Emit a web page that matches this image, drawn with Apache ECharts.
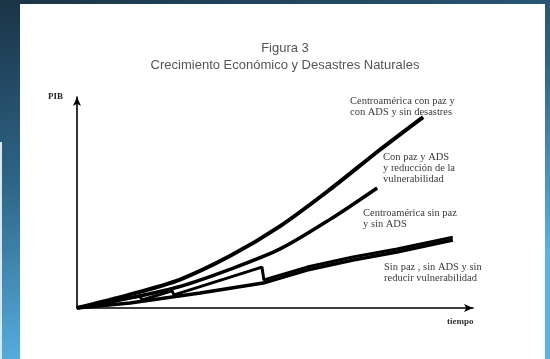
<!DOCTYPE html>
<html><head><meta charset="utf-8">
<script src="https://cdn.jsdelivr.net/npm/echarts@6/dist/echarts.min.js"></script>
<style>html,body{margin:0;padding:0;background:#fff;overflow:hidden}#c{width:550px;height:359px}</style>
</head><body><div id="c"></div>
<script>
// ---- data (x = tiempo 0..100, y = PIB 0..100) ----
const titleLines = ['Figura 3', 'Crecimiento Económico y Desastres Naturales'];
const xAxisName = 'tiempo';
const yAxisName = 'PIB';
const seriesNames = [
  'Centroamérica con paz y con ADS y sin desastres',
  'Con paz y ADS y reducción de la vulnerabilidad',
  'Centroamérica sin paz y sin ADS',
  'Sin paz , sin ADS y sin reducir vulnerabilidad'
];
const seriesLabels = [
  'Centroamérica con paz y\ncon ADS y sin desastres',
  'Con paz y ADS\ny reducción de la\nvulnerabilidad',
  'Centroamérica sin paz\ny sin ADS',
  'Sin paz , sin ADS y sin\nreducir vulnerabilidad'
];
const conPazSinDesastres = [[0,0],[13,6.2],[26.0,13.5],[38.6,24.6],[51.3,38.8],[63.9,56.2],[76.5,75.0],[87.4,90.5]];
const conPazReduccion = [[0,0],[13,4.6],[26.0,10.2],[38.6,18.3],[51.3,28.0],[63.9,42.0],[75.8,56.9]];
const sinPazSinADS = [[0,0],[15.9,5.7],[16.4,3.8],[24.0,8.1],[24.5,6.2],[46.7,19.4],[47.2,13.3],[58.1,19.4],[69.7,24.2],[80.8,28.0],[94.9,33.6]];
const sinReducir = [[0,0],[13.4,2.4],[31.1,7.1],[47.0,11.8],[58.1,18.0],[69.7,22.7],[80.8,26.5],[94.9,32.2]];

const chart = echarts.init(document.getElementById('c'), null, {renderer:'canvas'});
const serif = '"Liberation Serif", "DejaVu Serif", serif';
const sans = '"Liberation Sans", Arial, sans-serif';
const lbl = (x, y, t) => ({type:'text', x, y, z:10, style:{text:t, font:'10.5px ' + serif, fill:'#3a3a3a', lineHeight:11}});

chart.setOption({
  backgroundColor: {type:'linear', x:0, y:0, x2:0.15, y2:1, colorStops:[
    {offset:0, color:'#1b3346'},{offset:0.5, color:'#2e6688'},{offset:1, color:'#58b3e4'}]},
  animation:false,
  title:{text: titleLines.join('\n'), left:280, top:35, textAlign:'center',
    textStyle:{fontFamily:sans, fontSize:13, fontWeight:'normal', color:'#555', lineHeight:17}},
  grid:{left:77, right:77, top:97, bottom:51, containLabel:false},
  xAxis:{type:'value', min:0, max:100, axisLine:{symbol:['none','arrow'], symbolSize:[6,9], lineStyle:{color:'#000', width:1.6}},
    axisTick:{show:false}, axisLabel:{show:false}, splitLine:{show:false}},
  yAxis:{type:'value', min:0, max:100, axisLine:{show:true, symbol:['none','arrow'], symbolSize:[6,9], lineStyle:{color:'#000', width:1.6}},
    axisTick:{show:false}, axisLabel:{show:false}, splitLine:{show:false}},
  graphic:[
    {type:'rect', z:-10, shape:{x:20, y:4, width:525, height:360}, style:{fill:'#ffffff'}},
    {type:'rect', z:-10, shape:{x:0, y:142, width:2, height:220}, style:{fill:'#d8e6ee'}},
    {type:'text', x:48, y:92, z:10, style:{text:yAxisName, font:'bold 9px ' + serif, fill:'#222'}},
    {type:'text', x:447, y:317, z:10, style:{text:xAxisName, font:'bold 9px ' + serif, fill:'#333'}},
    lbl(350, 96, seriesLabels[0]),
    lbl(383, 152, seriesLabels[1]),
    lbl(363, 208, seriesLabels[2]),
    lbl(384, 262, seriesLabels[3])
  ],
  series:[
    {name:seriesNames[0], type:'line', data:conPazSinDesastres, smooth:0.3, showSymbol:false, lineStyle:{color:'#000', width:4}},
    {name:seriesNames[1], type:'line', data:conPazReduccion, smooth:0.3, showSymbol:false, lineStyle:{color:'#000', width:3.5}},
    {name:seriesNames[2], type:'line', data:sinPazSinADS, showSymbol:false, lineStyle:{color:'#000', width:3}},
    {name:seriesNames[3], type:'line', data:sinReducir, showSymbol:false, lineStyle:{color:'#000', width:3.5}}
  ]
});
</script>
</body></html>
